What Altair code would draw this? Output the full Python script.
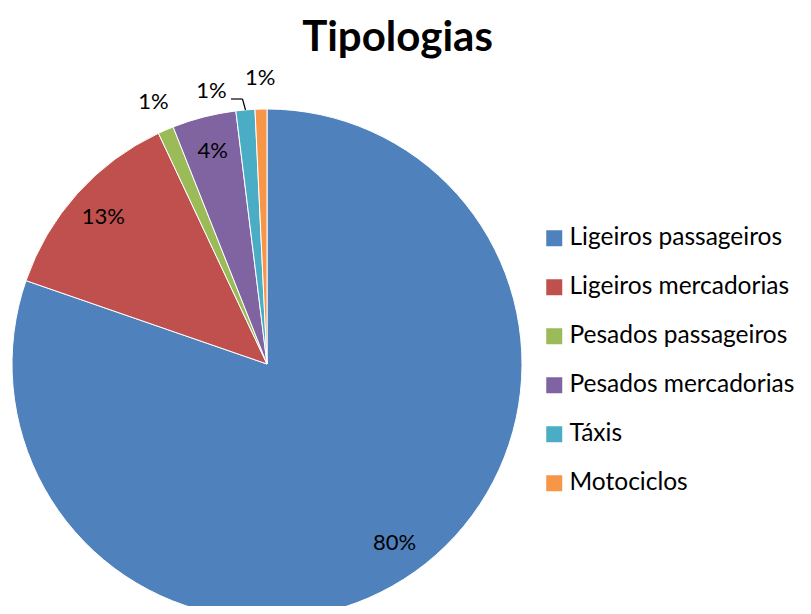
import altair as alt
import pandas as pd

categories = ["Ligeiros passageiros", "Ligeiros mercadorias", "Pesados passageiros",
              "Pesados mercadorias", "Táxis", "Motociclos"]
values = [80.3, 12.7, 1.0, 4.05, 1.2, 0.75]
labels = ["80%", "13%", "1%", "4%", "1%", "1%"]
colors = ["#4F81BD", "#C0504D", "#9BBB59", "#8064A2", "#4BACC6", "#F79646"]

df = pd.DataFrame({"cat": categories, "value": values, "label": labels,
                   "idx": list(range(len(categories)))})

FONT = "Lato"
CX, CY, R = 259, 356, 255

base = alt.Chart(df).transform_window(
    cum="sum(value)", sort=[alt.SortField("idx")]
).transform_calculate(
    mid="datum.cum - datum.value / 2"
)

theta_scale = alt.Scale(domain=[0, 100])

arcs = alt.Chart(df).mark_arc(radius=R, stroke="white", strokeWidth=1).encode(
    theta=alt.Theta("value:Q", stack=True, scale=theta_scale),
    order=alt.Order("idx:O"),
    color=alt.Color("cat:N", scale=alt.Scale(domain=categories, range=colors),
                    sort=categories,
                    legend=alt.Legend(title=None, orient="none", legendX=534, legendY=218,
                                      symbolType="square", symbolSize=256,
                                      symbolStrokeWidth=0, labelFont=FONT,
                                      labelFontSize=24.5, labelColor="black",
                                      labelOffset=3, rowPadding=24, padding=0,
                                      labelLimit=400)),
    x=alt.value(CX), y=alt.value(CY),
)

inside = base.transform_filter("datum.value >= 3").mark_text(
    radius=220, font=FONT, fontSize=22, color="black"
).encode(theta=alt.Theta("mid:Q", scale=theta_scale), text="label:N",
         x=alt.value(CX), y=alt.value(CY))

outside = base.transform_filter("datum.value < 3 && datum.cat != 'Táxis'").mark_text(
    radius=286, font=FONT, fontSize=22, color="black"
).encode(theta=alt.Theta("mid:Q", scale=theta_scale), text="label:N",
         x=alt.value(CX), y=alt.value(CY))

taxi = base.transform_filter("datum.cat == 'Táxis'").mark_text(
    radius=279, font=FONT, fontSize=22, color="black", dx=-32, dy=5
).encode(theta=alt.Theta("mid:Q", scale=theta_scale), text="label:N",
         x=alt.value(CX), y=alt.value(CY))

lead1 = alt.Chart(df).transform_filter("datum.idx == 0").mark_rule(
    color="black", strokeWidth=1.2
).encode(x=alt.value(223), x2=alt.value(234.5), y=alt.value(91), y2=alt.value(91))
lead2 = alt.Chart(df).transform_filter("datum.idx == 0").mark_rule(
    color="black", strokeWidth=1.2
).encode(x=alt.value(234.5), x2=alt.value(237.5), y=alt.value(91), y2=alt.value(102))

title = alt.Chart(df).transform_filter("datum.idx == 0").mark_text(
    text="Tipologias", font=FONT, fontSize=42, fontWeight="bold", color="black",
    baseline="alphabetic", align="center"
).encode(x=alt.value(389.5), y=alt.value(43))

chart = alt.layer(arcs, inside, outside, taxi, lead1, lead2, title).properties(
    width=795, height=598, padding=0, autosize=alt.AutoSizeParams(type="none")
).configure_view(stroke=None)

chart.save("out.html", embed_options={"renderer": "svg", "actions": False})
